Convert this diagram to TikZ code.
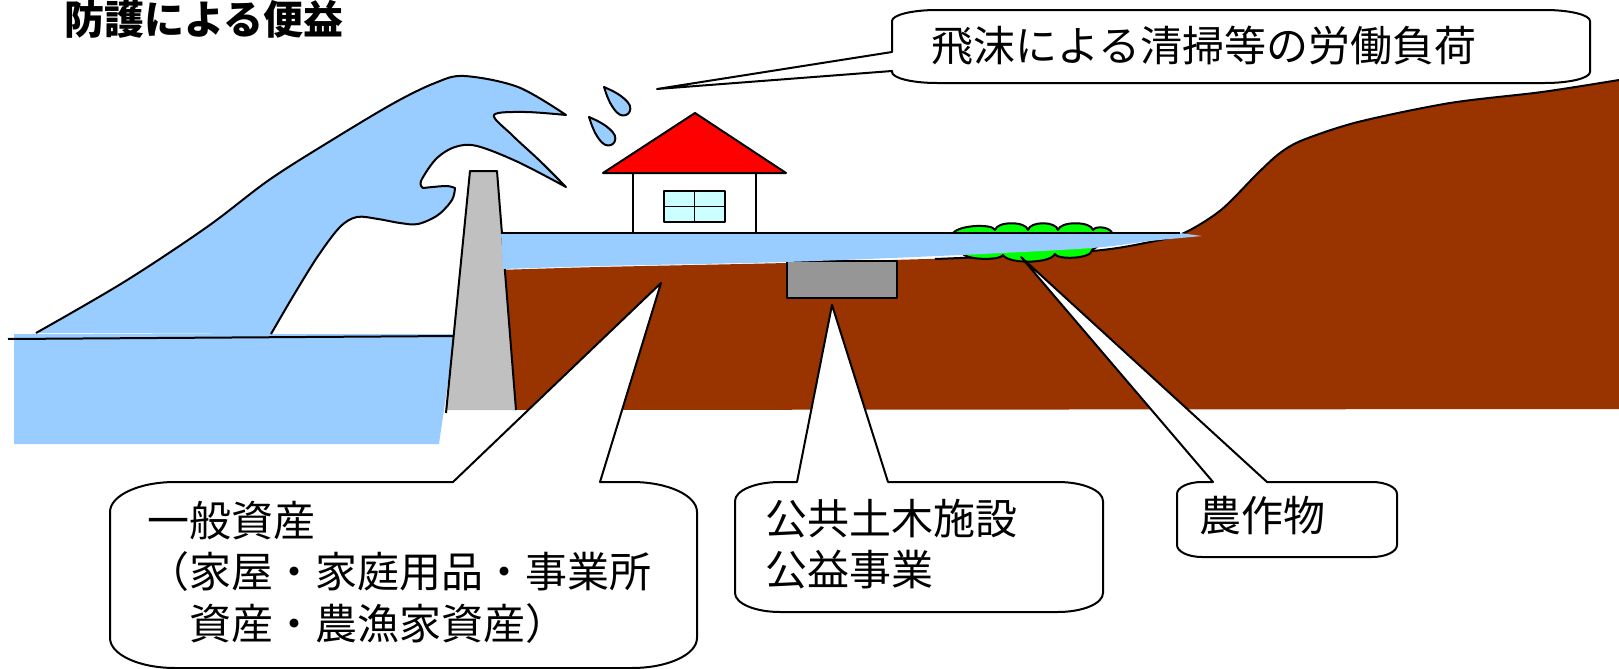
\documentclass[tikz,border=0pt]{standalone}
\usepackage{fontspec}
\newfontfamily\jp{Noto Sans CJK JP}
\definecolor{sea}{HTML}{99CCFF}
\definecolor{wallgrey}{HTML}{C0C0C0}
\definecolor{land}{HTML}{993300}
\definecolor{boxgrey}{HTML}{969696}
\definecolor{glass}{HTML}{CCFFFF}
\definecolor{bush}{HTML}{00FF00}
\definecolor{roof}{HTML}{FF0000}
\begin{document}
\begin{tikzpicture}[x=0.5pt, y=-0.5pt, line join=round,
  outline/.style={draw=black, line width=1pt},
  bubble/.style={fill=white, draw=black, line width=1pt},
  txt/.style={font=\jp\fontsize{21}{25.8}\selectfont, inner sep=0pt, align=left, anchor=west},
  drop/.pic={\path[fill=sea, draw=black, line width=1pt]
      (0,0) .. controls (4,9) and (7.5,17) .. (7.5,27)
      .. controls (7.5,33) and (3.5,36) .. (0,36)
      .. controls (-3.5,36) and (-7.5,33) .. (-7.5,27)
      .. controls (-7.5,17) and (-4,9) .. (0,0) -- cycle;}
]
\useasboundingbox (0,0) rectangle (1619,669);

% heading
\node[font=\jp\bfseries\fontsize{20}{24}\selectfont, inner sep=0pt, anchor=west] (title) at (64,19) {防護による便益};

% open sea
\fill[sea] (14,334) -- (455,334) -- (439,444) -- (14,444) -- cycle;

% breaking wave
\path[fill=sea, draw=black, line width=1pt]
  plot[smooth, tension=0.55] coordinates {(36,333) (124,282) (207,227) (269,180) (332,140) (394,103) (435,83) (464,76) (518,87) (566,115)}
  -- plot[smooth, tension=0.55] coordinates {(566,115) (525,112) (494,115) (512,135) (540,161) (566,187)}
  -- plot[smooth, tension=0.55] coordinates {(566,187) (518,162) (477,146) (455,147) (436,159) (421,181) (423,188)}
  -- plot[smooth, tension=0.55] coordinates {(423,188) (446,186) (455,188)}
  -- plot[smooth, tension=0.55] coordinates {(455,188) (452,200) (438,215) (418,224) (400,223) (378,219) (357,217) (340,227) (318,256) (295,293) (271,334)};

% sea surface
\draw[outline] (8,339) -- (455,336);

% land behind the seawall
\fill[land]
  plot[smooth] coordinates {(498,270) (600,267) (786,263) (960,258)}
  -- plot[smooth] coordinates {(960,258) (1092,251) (1150,242) (1184,233) (1221,210) (1258,173) (1280,153) (1303,140) (1358,122) (1450,103) (1542,92) (1619,80)}
  -- (1619,409) -- (512,410) -- cycle;
\draw[outline] (935,259) -- (960,258)
  plot[smooth] coordinates {(960,258) (1092,251) (1150,242) (1184,233) (1221,210) (1258,173) (1280,153) (1303,140) (1358,122) (1450,103) (1542,92) (1619,80)};

% seawall
\fill[wallgrey] (470,171) -- (497,171) -- (516,410) -- (446,410) -- cycle;
\draw[outline] (446,413) -- (470,171) -- (497,171) -- (516,410);

% buried facility
\draw[outline, fill=boxgrey] (787,261) rectangle (897,298);

% crops
\path[fill=bush, draw=black, line width=1pt]
  (952,236) .. controls (952,225) and (993,223) .. (995,230)
  .. controls (997,221) and (1026,221) .. (1028,230)
  .. controls (1030,221) and (1056,221) .. (1058,230)
  .. controls (1060,221) and (1091,221) .. (1093,230)
  .. controls (1096,225) and (1113,227) .. (1113,236)
  -- (1092,250)
  .. controls (1092,259) and (1057,260) .. (1055,254)
  .. controls (1050,264) and (1008,264) .. (1003,255)
  .. controls (1000,261) and (962,260) .. (962,252)
  -- cycle;

% inundation
\fill[sea] (501,233) -- (1180,233) -- (1202,236)
  -- plot[smooth] coordinates {(1202,236) (1150,241) (1092,248) (960,255) (786,262) (600,266) (503,269)} -- cycle;
\draw[outline] (501,233) -- (1180,233);

% house
\draw[outline, fill=white] (633,173) rectangle (756,233);
\draw[line width=0.9pt, fill=glass] (664,191) rectangle (725,222);
\draw[line width=0.9pt] (694.5,191) -- (694.5,222) (664,206.5) -- (725,206.5);
\draw[outline, fill=roof] (603,173) -- (695,113) -- (786,173) -- cycle;

% spray
\pic[rotate=42] at (604,87) {drop};
\pic[rotate=42] at (589,117) {drop};

% callouts
\coordinate (spraytip) at (657,89);
\draw[bubble] (892,52) -- (spraytip) -- (892,71) -- (892,72)
  arc[start angle=180, end angle=90, x radius=45, y radius=11] -- (1545,83)
  arc[start angle=90, end angle=0, x radius=45, y radius=11] -- (1590,21)
  arc[start angle=360, end angle=270, x radius=45, y radius=11] -- (937,10)
  arc[start angle=270, end angle=180, x radius=45, y radius=11] -- cycle;
\node[txt] (spraytext) at (931,46) {飛沫による清掃等の労働負荷};

\coordinate (assettip) at (661,283);
\draw[bubble] (453,482) -- (assettip) -- (600,482) -- (632,482)
  arc[start angle=270, end angle=360, x radius=65, y radius=30] -- (697,638)
  arc[start angle=0, end angle=90, x radius=65, y radius=30] -- (175,668)
  arc[start angle=90, end angle=180, x radius=65, y radius=30] -- (110,512)
  arc[start angle=180, end angle=270, x radius=65, y radius=30] -- cycle;
\node[txt] (assettext) at (147,572) {一般資産\\（家屋・家庭用品・事業所\\　資産・農漁家資産）};

\coordinate (civiltip) at (832,305);
\draw[bubble] (797,482) -- (civiltip) -- (888,482) -- (1058,482)
  arc[start angle=270, end angle=360, x radius=45, y radius=19] -- (1103,593)
  arc[start angle=0, end angle=90, x radius=45, y radius=19] -- (780,612)
  arc[start angle=90, end angle=180, x radius=45, y radius=19] -- (735,501)
  arc[start angle=180, end angle=270, x radius=45, y radius=19] -- cycle;
\node[txt] (civiltext) at (765,544) {公共土木施設\\公益事業};

\coordinate (croptip) at (1021,257);
\draw[bubble] (1213,482) -- (croptip) -- (1267,482) -- (1372,482)
  arc[start angle=270, end angle=360, x radius=25, y radius=12] -- (1397,545)
  arc[start angle=0, end angle=90, x radius=25, y radius=12] -- (1202,557)
  arc[start angle=90, end angle=180, x radius=25, y radius=12] -- (1177,494)
  arc[start angle=180, end angle=270, x radius=25, y radius=12] -- cycle;
\node[txt] (croptext) at (1199,516) {農作物};
\end{tikzpicture}
\end{document}
